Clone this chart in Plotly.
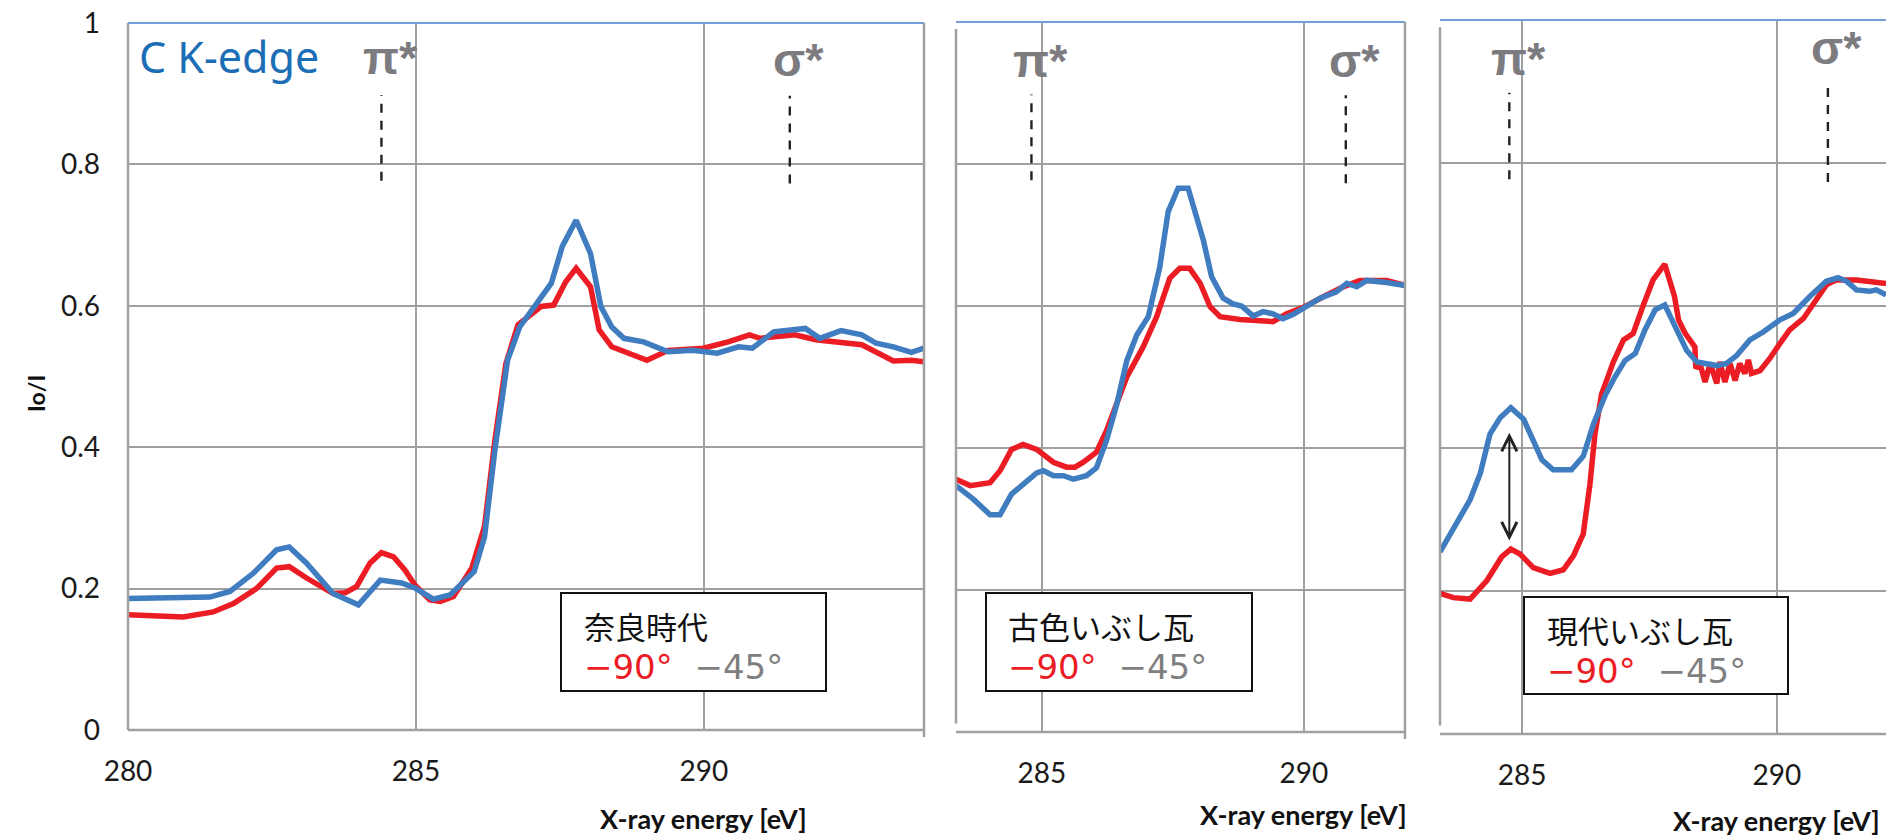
import plotly.graph_objects as go

W, H = 1886, 840

# ---------------- data ----------------
# Panel 1: 奈良時代
p1_red_e = [280.0, 280.96, 281.48, 281.83, 282.23, 282.58, 282.80, 283.10, 283.56, 283.77, 283.97,
            284.20, 284.40, 284.61, 284.81, 284.98, 285.24, 285.42, 285.65, 285.97, 286.19, 286.37,
            286.56, 286.77, 287.17, 287.39, 287.60, 287.78, 288.03, 288.18, 288.40, 289.01, 289.38,
            289.99, 290.42, 290.79, 290.97, 291.58, 291.94, 292.38, 292.74, 293.29, 293.60, 293.82]
p1_red_v = [0.163, 0.160, 0.167, 0.179, 0.200, 0.229, 0.231, 0.215, 0.193, 0.194, 0.203,
            0.236, 0.251, 0.245, 0.226, 0.205, 0.184, 0.182, 0.189, 0.229, 0.288, 0.410,
            0.518, 0.573, 0.599, 0.601, 0.634, 0.653, 0.627, 0.566, 0.542, 0.523, 0.537,
            0.540, 0.549, 0.559, 0.554, 0.559, 0.552, 0.548, 0.545, 0.522, 0.523, 0.521]
p1_blue_e = [280.0, 281.42, 281.77, 282.18, 282.58, 282.80, 283.10, 283.56, 284.00, 284.38, 284.75,
             284.98, 285.30, 285.59, 286.01, 286.19, 286.37, 286.59, 286.80, 287.05, 287.35, 287.54,
             287.78, 288.03, 288.21, 288.40, 288.61, 288.95, 289.19, 289.38, 289.80, 290.23, 290.60,
             290.84, 291.21, 291.76, 292.01, 292.38, 292.74, 292.99, 293.29, 293.60, 293.82]
p1_blue_v = [0.186, 0.188, 0.196, 0.222, 0.255, 0.259, 0.236, 0.193, 0.177, 0.212, 0.208,
             0.201, 0.185, 0.191, 0.224, 0.273, 0.396, 0.523, 0.570, 0.599, 0.632, 0.684,
             0.721, 0.674, 0.599, 0.570, 0.554, 0.549, 0.542, 0.535, 0.537, 0.533, 0.542,
             0.540, 0.563, 0.568, 0.554, 0.565, 0.559, 0.547, 0.542, 0.534, 0.540]

# Panel 2: 古色いぶし瓦
p2_red_e = [283.36, 283.63, 284.01, 284.20, 284.42, 284.64, 284.90, 285.22, 285.47, 285.63, 285.79,
            286.04, 286.23, 286.62, 286.93, 287.19, 287.44, 287.63, 287.82, 288.02, 288.21, 288.40,
            288.78, 289.16, 289.41, 289.67, 289.99, 290.37, 290.75, 291.07, 291.58, 291.93]
p2_red_v = [0.356, 0.347, 0.351, 0.368, 0.398, 0.405, 0.398, 0.380, 0.373, 0.373, 0.380,
            0.394, 0.424, 0.500, 0.542, 0.585, 0.639, 0.653, 0.653, 0.632, 0.599, 0.585,
            0.581, 0.580, 0.578, 0.589, 0.598, 0.613, 0.627, 0.636, 0.636, 0.629]
p2_blue_e = [283.36, 283.69, 284.01, 284.20, 284.42, 284.64, 284.90, 285.03, 285.22, 285.41, 285.60,
             285.85, 286.04, 286.23, 286.43, 286.62, 286.81, 287.03, 287.25, 287.41, 287.60, 287.79,
             288.08, 288.24, 288.46, 288.65, 288.81, 289.03, 289.22, 289.41, 289.60, 289.79, 290.05,
             290.31, 290.62, 290.82, 291.01, 291.20, 291.58, 291.93]
p2_blue_v = [0.347, 0.328, 0.306, 0.306, 0.335, 0.349, 0.365, 0.368, 0.361, 0.361, 0.356,
             0.361, 0.372, 0.410, 0.462, 0.523, 0.559, 0.585, 0.655, 0.733, 0.766, 0.766,
             0.693, 0.641, 0.611, 0.603, 0.600, 0.586, 0.592, 0.589, 0.582, 0.588, 0.599,
             0.611, 0.620, 0.632, 0.627, 0.636, 0.633, 0.629]

# Panel 3: 現代いぶし瓦
p3_red_e = [283.39, 283.65, 283.98, 284.31, 284.60, 284.78, 284.96, 285.22, 285.55, 285.81, 286.01,
            286.20, 286.33, 286.43, 286.56, 286.79, 286.99, 287.18, 287.38, 287.57, 287.80, 287.99,
            288.07, 288.20, 288.39, 288.41, 288.49, 288.59, 288.69, 288.82, 288.88, 288.98, 289.08,
            289.18, 289.27, 289.37, 289.44, 289.50, 289.67, 289.86, 290.06, 290.25, 290.52, 290.78,
            290.97, 291.17, 291.56, 291.89, 292.14]
p3_red_v = [0.197, 0.191, 0.189, 0.215, 0.248, 0.259, 0.252, 0.233, 0.225, 0.230, 0.250,
            0.280, 0.349, 0.420, 0.476, 0.521, 0.552, 0.561, 0.601, 0.636, 0.658, 0.613,
            0.580, 0.561, 0.542, 0.512, 0.519, 0.493, 0.519, 0.491, 0.521, 0.493, 0.519,
            0.495, 0.519, 0.505, 0.524, 0.505, 0.509, 0.526, 0.547, 0.566, 0.582, 0.608,
            0.629, 0.636, 0.636, 0.633, 0.631]
p3_blue_e = [283.39, 283.65, 283.98, 284.18, 284.37, 284.57, 284.78, 285.03, 285.22, 285.39, 285.61,
             285.97, 286.20, 286.40, 286.63, 286.82, 287.02, 287.22, 287.41, 287.61, 287.80, 288.03,
             288.23, 288.43, 288.82, 289.01, 289.21, 289.47, 289.73, 290.06, 290.32, 290.65, 290.97,
             291.20, 291.37, 291.56, 291.82, 291.95, 292.14]
p3_blue_v = [0.255, 0.288, 0.328, 0.365, 0.420, 0.443, 0.457, 0.441, 0.410, 0.384, 0.370,
             0.370, 0.389, 0.434, 0.474, 0.500, 0.523, 0.533, 0.566, 0.594, 0.601, 0.566,
             0.537, 0.521, 0.516, 0.519, 0.530, 0.552, 0.563, 0.580, 0.589, 0.613, 0.634,
             0.639, 0.634, 0.622, 0.620, 0.622, 0.615]

y_ticks = [0, 0.2, 0.4, 0.6, 0.8, 1]
y_tick_text = ["0", "0.2", "0.4", "0.6", "0.8", "1"]
x_ticks = [280, 285, 290]
panel_names = ["奈良時代", "古色いぶし瓦", "現代いぶし瓦"]
pi_star = [284.40, 284.80, 284.75]
sigma_star = [291.49, 290.80, 291.00]
arrow_e = 284.75
arrow_y = [0.269, 0.422]

RED = "#ec1c24"
BLUE = "#3f7cc0"
GRID = "#a0a0a0"
LABEL_GRAY = "#7c7c80"

fig = go.Figure()

series = [
    (p1_red_e, p1_red_v, p1_blue_e, p1_blue_v, "x", "y"),
    (p2_red_e, p2_red_v, p2_blue_e, p2_blue_v, "x2", "y2"),
    (p3_red_e, p3_red_v, p3_blue_e, p3_blue_v, "x3", "y3"),
]
for re_, rv, be, bv, xa, ya in series:
    fig.add_trace(go.Scatter(x=re_, y=rv, mode="lines", xaxis=xa, yaxis=ya,
                             line=dict(color=RED, width=5.5), showlegend=False, hoverinfo="skip"))
    fig.add_trace(go.Scatter(x=be, y=bv, mode="lines", xaxis=xa, yaxis=ya,
                             line=dict(color=BLUE, width=5.5), showlegend=False, hoverinfo="skip"))

# panel geometry (pixels)
panels = [
    dict(x0=128, x1=924, top=23, bot=730, rng=[280, 293.82]),
    dict(x0=956, x1=1405, top=22, bot=732, rng=[283.36, 291.93]),
    dict(x0=1440, x1=1886, top=20, bot=734, rng=[283.39, 292.14]),
]

tickfont = dict(family="Lato, Open Sans, sans-serif", size=28, color="#1a1a1a")
for i, p in enumerate(panels):
    sfx = "" if i == 0 else str(i + 1)
    fig.update_layout(**{
        "xaxis" + sfx: dict(domain=[p["x0"] / W, min(p["x1"] / W, 1.0)], range=p["rng"],
                            anchor="y" + sfx, tickvals=x_ticks, showgrid=True, gridcolor=GRID,
                            gridwidth=1.5, zeroline=False, showline=False, ticks="",
                            tickfont=tickfont, ticklabelstandoff=22, automargin=False),
        "yaxis" + sfx: dict(domain=[(H - p["bot"]) / H, (H - p["top"]) / H], range=[0, 1],
                            anchor="x" + sfx, tickvals=y_ticks, ticktext=y_tick_text,
                            showticklabels=(i == 0), showgrid=True, gridcolor=GRID, gridwidth=1.5,
                            zeroline=False, showline=False, ticks="", tickfont=tickfont,
                            ticklabelstandoff=27, automargin=False),
    })

shapes = []
annots = []
for i, p in enumerate(panels):
    sfx = "" if i == 0 else str(i + 1)
    xd, yd = "x" + sfx + " domain", "y" + sfx + " domain"
    xr, yr = "x" + sfx, "y" + sfx
    # left axis line
    shapes.append(dict(type="line", xref=xd, yref=yd, x0=0, x1=0,
                       y0=0 if i == 0 else 0.012, y1=1 if i == 0 else 0.99,
                       line=dict(color=GRID, width=2.5)))
    # bottom axis line
    shapes.append(dict(type="line", xref=xd, yref=yd, x0=0, x1=1, y0=0, y1=0,
                       line=dict(color=GRID, width=2.5)))
    # right border
    if i < 2:
        shapes.append(dict(type="line", xref=xd, yref=yd, x0=1, x1=1, y0=-0.01, y1=1,
                           line=dict(color=GRID, width=2.5)))
    # top border (light blue)
    shapes.append(dict(type="line", xref=xd, yref=yd, x0=0, x1=1, y0=1, y1=1,
                       line=dict(color="#74a0d6", width=2)))
    # dashed markers
    shapes.append(dict(type="line", xref=xr, yref=yr, x0=pi_star[i], x1=pi_star[i],
                       y0=0.777, y1=0.898, line=dict(color="#222222", width=2.4, dash="9px,8px")))
    shapes.append(dict(type="line", xref=xr, yref=yr, x0=sigma_star[i], x1=sigma_star[i],
                       y0=0.773, y1=0.897 if i < 2 else 0.91,
                       line=dict(color="#222222", width=2.4, dash="9px,8px")))

    # π*, σ* labels
    lab_y = [54, 56] if i == 0 else ([57, 57] if i == 1 else [55, 43])
    annots.append(dict(xref=xr, yref="paper", x=pi_star[i], y=(H - lab_y[0]) / H, text="π*",
                       showarrow=False, xanchor="center", yanchor="middle", xshift=9, yshift=-4,
                       font=dict(family="Liberation Sans, Arial, sans-serif", size=47,
                                 color=LABEL_GRAY, weight="bold")))
    annots.append(dict(xref=xr, yref="paper", x=sigma_star[i], y=(H - lab_y[1]) / H, text="σ*",
                       showarrow=False, xanchor="center", yanchor="middle", xshift=9, yshift=-4,
                       font=dict(family="Liberation Sans, Arial, sans-serif", size=47,
                                 color=LABEL_GRAY, weight="bold")))

    # x-axis title
    ty = [818, 814, 820][i]
    annots.append(dict(xref=xr, yref="paper", x=290, y=(H - ty) / H, text="X-ray energy [eV]",
                       showarrow=False, xanchor="center", yanchor="middle",
                       font=dict(family="Lato, Open Sans, sans-serif", size=27, color="#111111",
                                 weight="bold")))

# legend boxes
boxes = [
    dict(x0=561, x1=826, y0=593, y1=691, tx=582, ty=645),
    dict(x0=986, x1=1252, y0=593, y1=691, tx=1006, ty=645),
    dict(x0=1524, x1=1788, y0=597, y1=694, tx=1545, ty=649),
]
jp = "Noto Sans CJK JP, sans-serif"
deg_style = "font-family:DejaVu Sans, sans-serif;font-size:34px;"
for i, b in enumerate(boxes):
    shapes.append(dict(type="rect", xref="paper", yref="paper", x0=b["x0"] / W, x1=b["x1"] / W,
                       y0=(H - b["y1"]) / H, y1=(H - b["y0"]) / H,
                       line=dict(color="#111111", width=2), fillcolor="white", layer="above"))
    txt = (panel_names[i] + "<br>"
           + "<span style='" + deg_style + "color:" + RED + "'>−90°</span>"
           + "<span style='" + deg_style + "'>\u00a0\u00a0</span>"
           + "<span style='" + deg_style + "color:#7f7f7f'>−45°</span>")
    annots.append(dict(xref="paper", yref="paper", x=b["tx"] / W, y=(H - b["ty"]) / H,
                       text=txt, showarrow=False, xanchor="left", yanchor="middle", align="left",
                       font=dict(family=jp, size=31, color="#111111")))

# C K-edge
annots.append(dict(xref="paper", yref="paper", x=137 / W, y=(H - 57) / H, text="C K-edge",
                   showarrow=False, xanchor="left", yanchor="middle",
                   font=dict(family="Noto Sans, sans-serif", size=43, color="#1b6db6")))
# y title
annots.append(dict(xref="paper", yref="paper", x=36 / W, y=(H - 394) / H, text="Io/I",
                   showarrow=False, xanchor="center", yanchor="middle", textangle=-90,
                   font=dict(family="Lato, Open Sans, sans-serif", size=23, color="#111111",
                             weight="bold")))
# double arrow in panel 3
annots.append(dict(xref="x3", yref="y3", x=arrow_e, y=arrow_y[1], axref="x3", ayref="y3",
                   ax=arrow_e, ay=arrow_y[0], text="", showarrow=True, arrowhead=5,
                   startarrowhead=5, arrowside="end+start", arrowwidth=2, arrowsize=1.5,
                   startarrowsize=1.5, arrowcolor="#222222"))

fig.update_layout(width=W, height=H, margin=dict(l=0, r=0, t=0, b=0, autoexpand=False),
                  paper_bgcolor="white", plot_bgcolor="white",
                  shapes=shapes, annotations=annots, showlegend=False)

fig.write_html("out.html")
